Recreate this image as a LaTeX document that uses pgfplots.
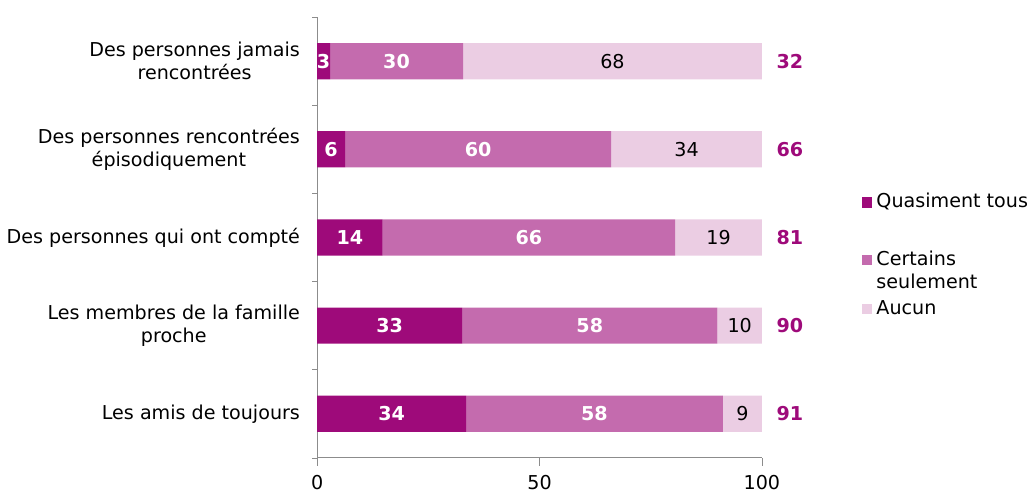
\documentclass[border=0pt]{standalone}
\usepackage{pgfplots}
\pgfplotsset{compat=1.18}
\usepackage{fontspec}
\setmainfont{DejaVu Sans}
\definecolor{cdark}{RGB}{158,10,122}
\definecolor{cmid}{RGB}{196,107,174}
\definecolor{clight}{RGB}{235,205,227}
\definecolor{caxis}{RGB}{140,140,140}
\begin{document}
\begin{tikzpicture}[font=\fontsize{9.5}{11.5}\selectfont]
\begin{axis}[
  name=main,
  scale only axis, width=221pt, height=219pt,
  xbar stacked, bar width=18pt,
  xmin=0, xmax=100, ymin=-0.5, ymax=4.5,
  axis lines*=left,
  axis line style={caxis},
  xtick={0,50,100},
  ytick={0,1,2,3,4},
  yticklabels={Les amis de toujours, {Les membres de la famille\\proche}, Des personnes qui ont compté, {Des personnes rencontrées\\épisodiquement}, {Des personnes jamais\\rencontrées}},
  yticklabel style={align=center},
  minor ytick={-0.5,0.5,1.5,2.5,3.5,4.5},
  every major y tick/.append style={draw=none},
  tick align=outside,
  major tick length=4pt, minor tick length=2.5pt,
  tick style={caxis},
  every minor y tick/.append style={caxis},
  y tick label style={xshift=-1pt},
  x tick label style={yshift=-1pt},
  /pgf/number format/assume math mode=true,
  legend style={draw=none, inner sep=0pt, at={(1.225,0.61)}, anchor=north west, cells={anchor=base west}, row sep=3pt, font=\fontsize{9.5}{11.5}\selectfont},
  legend image code/.code={\fill[#1] (0pt,0.2pt) rectangle (5pt,5.2pt);},
]
\addplot[fill=cdark, draw=none] coordinates {(2.9,4) (6.3,3) (14.7,2) (32.6,1) (33.5,0)};
\addplot[fill=cmid, draw=none] coordinates {(29.9,4) (59.8,3) (65.8,2) (57.4,1) (57.7,0)};
\addplot[fill=clight, draw=none] coordinates {(67.2,4) (33.9,3) (19.5,2) (10,1) (8.8,0)};
\addlegendentry{Quasiment tous\rule[-25pt]{0pt}{1pt}}
\addlegendentry{\begin{tabular}[t]{@{}l@{}}\rule{0pt}{20pt}Certains\\seulement\end{tabular}}
\addlegendentry{\rule{0pt}{16pt}Aucun}
\end{axis}
\begin{axis}[
  scale only axis, width=221pt, height=219pt,
  xmin=0, xmax=100, ymin=-0.5, ymax=4.5,
  hide axis, clip=false,
]
\addplot[draw=none, mark=none, nodes near coords, point meta=explicit symbolic,
  nodes near coords style={text=white, font=\fontsize{9.5}{11.5}\selectfont\bfseries, anchor=center}]
  table[meta=l] {
x y l
1.45 4 3
17.85 4 30
3.15 3 6
36.2 3 60
7.35 2 14
47.6 2 66
16.3 1 33
61.3 1 58
16.75 0 34
62.35 0 58
};
\addplot[draw=none, mark=none, nodes near coords, point meta=explicit symbolic,
  nodes near coords style={text=black, anchor=center}]
  table[meta=l] {
x y l
66.4 4 68
83.05 3 34
90.25 2 19
95 1 10
95.6 0 9
};
\addplot[draw=none, mark=none, nodes near coords, point meta=explicit symbolic,
  nodes near coords style={text=cdark, font=\fontsize{9.5}{11.5}\selectfont\bfseries, anchor=center}]
  table[meta=l] {
x y l
106.3 4 32
106.3 3 66
106.3 2 81
106.3 1 90
106.3 0 91
};
\end{axis}
\path (main.north west) ++(0,8.5pt);
\path (main.south west) ++(0,-17pt);
\end{tikzpicture}
\end{document}
